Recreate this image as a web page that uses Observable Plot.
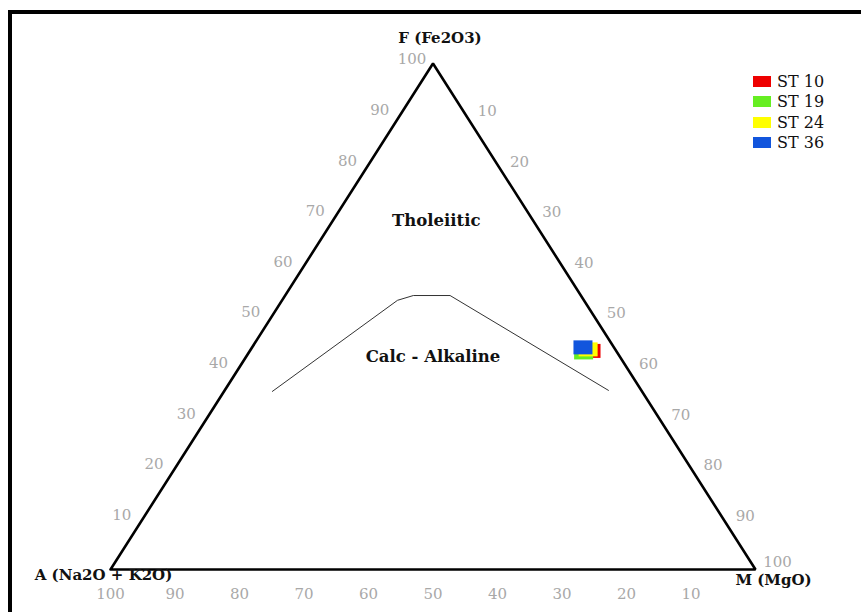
<!DOCTYPE html>
<html>
<head>
<meta charset="utf-8">
<script src="https://cdn.jsdelivr.net/npm/d3@7"></script>
<script src="https://cdn.jsdelivr.net/npm/@observablehq/plot@0.6"></script>
<style>
  html, body { margin: 0; padding: 0; background: #fff; }
  #wrap { position: relative; width: 861px; height: 612px; overflow: hidden; }
  #frame { position: absolute; left: 8px; top: 10px; right: 0; bottom: 0;
           border-left: 4px solid #000; border-top: 4px solid #000; pointer-events: none; }
  #legend { position: absolute; left: 753px; top: 71px; font-family: "DejaVu Serif", serif; font-size: 16px; color: #111; }
  .row { display: flex; align-items: center; height: 20.5px; }
  .sw { width: 18px; height: 11px; margin-right: 6px; }
</style>
</head>
<body>
<div id="wrap">
  <div id="chart"></div>
  <div id="frame"></div>
  <div id="legend"></div>
</div>
<script>
// Samples (A, F, M in %)
const samples = ["ST 10", "ST 19", "ST 24", "ST 36"];
const colors  = ["#ee0000", "#66ee22", "#ffff00", "#1155dd"];
const valA = [3.9, 5.2, 4.2, 4.8];
const valF = [43.2, 42.9, 43.5, 43.9];
const valM = [52.9, 51.9, 52.3, 51.3];

// Tholeiitic / calc-alkaline boundary (A, F, M in %)
const boundA = [57.3, 28.9, 26.0, 20.3, 5.1];
const boundF = [35.2, 53.2, 54.2, 54.2, 35.4];
const boundM = [7.5, 17.9, 19.9, 25.6, 59.5];

// Tick labels
const tickValues = [10, 20, 30, 40, 50, 60, 70, 80, 90, 100];

// Vertices and titles
const vertexNames = ["A (Na2O + K2O)", "M (MgO)", "F (Fe2O3)"];
const regionNames = ["Tholeiitic", "Calc - Alkaline"];
const regionA = [15, 29];
const regionF = [69, 42];
const regionM = [16, 29];

// ternary -> cartesian
function tx(a, f, m) { const s = a + f + m; return (m + f / 2) / s; }
function ty(a, f, m) { const s = a + f + m; return f / s; }
function pt(a, f, m, extra) { return Object.assign({x: tx(a, f, m), y: ty(a, f, m)}, extra || {}); }

const triangle = [pt(100,0,0), pt(0,0,100), pt(0,100,0), pt(100,0,0)];
const boundary = boundA.map((a, i) => pt(a, boundF[i], boundM[i]));
const leftTicks = tickValues.map(t => pt(100 - t, t, 0, {label: String(t)}));
const rightTicks = tickValues.filter(t => t < 100).map(t => pt(0, 100 - t, t, {label: String(t)}));
const rightTop = [pt(0, 0, 100, {label: "100"})];
const bottomTicks = tickValues.map(t => pt(t, 0, 100 - t, {label: String(t)}));
const pts = samples.map((s, i) => pt(valA[i], valF[i], valM[i], {name: s, color: colors[i]}));
const regions = regionNames.map((n, i) => pt(regionA[i], regionF[i], regionM[i], {label: n}));

const rectSymbol = {
  draw(ctx, size) {
    const w = 19, h = 14;
    ctx.moveTo(-w/2, -h/2); ctx.lineTo(w/2, -h/2); ctx.lineTo(w/2, h/2); ctx.lineTo(-w/2, h/2); ctx.closePath();
  }
};

const tickStyle = {fill: "#a8a8a8", fontSize: 15, fontFamily: "DejaVu Serif"};
const titleStyle = {fill: "#111", fontSize: 15, fontWeight: "bold", fontFamily: "DejaVu Serif"};

const chart = Plot.plot({
  width: 861,
  height: 612,
  marginLeft: 110,
  marginRight: 106,
  marginTop: 63,
  marginBottom: 43,
  x: {domain: [0, 1], axis: null},
  y: {domain: [0, 1], axis: null},
  style: {background: "white", fontFamily: "DejaVu Serif", overflow: "visible"},
  marks: [
    Plot.line(boundary, {x: "x", y: "y", stroke: "#333", strokeWidth: 1}),
    Plot.line(triangle, {x: "x", y: "y", stroke: "#000", strokeWidth: 2.6, strokeLinejoin: "miter"}),
    Plot.text(leftTicks, {x: "x", y: "y", text: "label", dx: -21, dy: -4, ...tickStyle}),
    Plot.text(rightTicks, {x: "x", y: "y", text: "label", dx: 22, dy: -3, ...tickStyle}),
    Plot.text(rightTop, {x: "x", y: "y", text: "label", dx: 22, dy: -7, ...tickStyle}),
    Plot.text(bottomTicks, {x: "x", y: "y", text: "label", dy: 25, ...tickStyle}),
    Plot.text([pt(100,0,0,{label: vertexNames[0]})], {x: "x", y: "y", text: "label", dx: -7, dy: 6, ...titleStyle}),
    Plot.text([pt(0,0,100,{label: vertexNames[1]})], {x: "x", y: "y", text: "label", dx: 18, dy: 11, ...titleStyle}),
    Plot.text([pt(0,100,0,{label: vertexNames[2]})], {x: "x", y: "y", text: "label", dx: 7, dy: -25, ...titleStyle}),
    Plot.text(regions, {x: "x", y: "y", text: "label", fill: "#111", fontSize: 16.5, fontWeight: "bold", fontFamily: "DejaVu Serif"}),
    Plot.dot(pts, {x: "x", y: "y", fill: "color", symbol: () => rectSymbol, r: 5, stroke: null})
  ]
});
document.getElementById("chart").appendChild(chart);

const legend = document.getElementById("legend");
samples.forEach((s, i) => {
  const row = document.createElement("div");
  row.className = "row";
  const sw = document.createElement("div");
  sw.className = "sw";
  sw.style.background = colors[i];
  const lab = document.createElement("span");
  lab.textContent = s;
  row.appendChild(sw); row.appendChild(lab);
  legend.appendChild(row);
});
</script>
</body>
</html>
